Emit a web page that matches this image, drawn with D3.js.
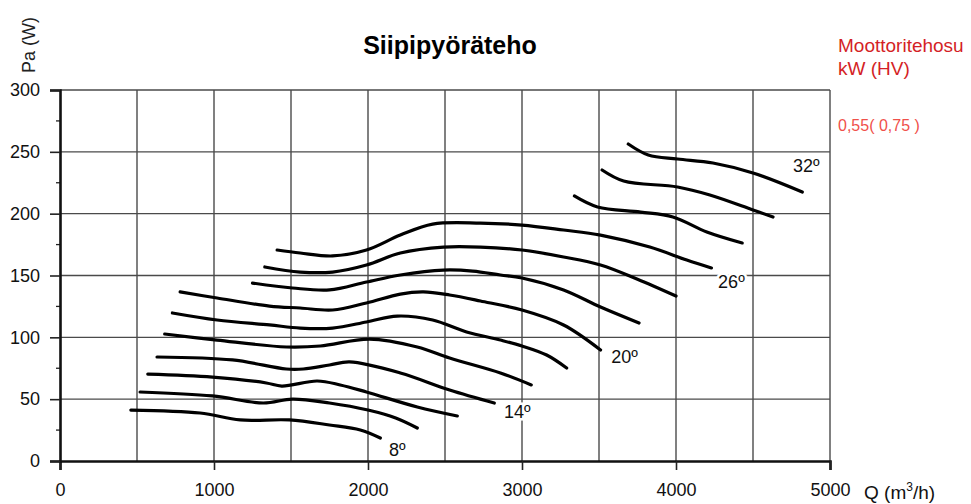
<!DOCTYPE html>
<html><head><meta charset="utf-8">
<script src="https://cdn.jsdelivr.net/npm/d3@7"></script>
<style>body{margin:0;background:#fff;} svg{display:block;font-family:"Liberation Sans",Arial,sans-serif;}</style>
</head><body>
<script>
// ---- data ----
const title = "Siipipyöräteho";
const yLabel = "Pa (W)";
const motorTitle = ["Moottoritehosu", "kW (HV)"];
const motorValue = "0,55( 0,75 )";
const xTicks = [0, 1000, 2000, 3000, 4000, 5000];
const yTicks = [0, 50, 100, 150, 200, 250, 300];
const angles = [8, 10, 12, 14, 16, 18, 20, 22, 24, 26, 28, 30, 32];
const labelledAngles = [8, 14, 20, 26, 32];
const curve8  = [[460,41.2],[910,38.8],[1170,33.2],[1490,33.2],[1750,29.1],[1950,25.1],[2080,18.6]];
const curve10 = [[520,55.8],[990,52.6],[1320,46.9],[1510,50.1],[1750,46.9],[2000,41.2],[2180,34.8],[2320,26.7]];
const curve12 = [[570,70.3],[990,67.9],[1340,63.1],[1440,60.6],[1670,64.7],[1820,61.5],[1990,55.8],[2320,43.7],[2580,36.4]];
const curve14 = [[630,84.1],[1120,81.7],[1470,74.4],[1580,74.4],[1750,77.6],[1880,80.1],[2210,71.2],[2530,57.4],[2820,46.9]];
const curve16 = [[680,102.7],[1020,97.8],[1470,92.2],[1690,93.0],[2010,98.6],[2320,92.2],[2530,83.3],[2860,71.2],[3060,61.5]];
const curve18 = [[730,119.7],[1020,114.0],[1360,110.0],[1560,107.5],[1770,107.5],[1990,112.4],[2190,117.2],[2420,114.0],[2640,104.3],[2860,97.8],[3000,93.0],[3160,85.7],[3290,75.2]];
const curve20 = [[780,136.7],[1020,131.8],[1360,125.3],[1560,123.7],[1770,122.1],[1990,127.8],[2210,135.0],[2360,136.7],[2530,134.2],[2730,129.4],[3000,122.1],[3270,110.0],[3510,89.8]];
const curve22 = [[1250,143.9],[1510,139.9],[1750,138.3],[1990,144.7],[2210,150.4],[2490,154.4],[2680,153.6],[2860,150.4],[3000,148.0],[3270,138.3],[3510,124.5],[3760,111.6]];
const curve24 = [[1330,156.9],[1560,152.8],[1770,152.8],[1990,158.5],[2210,168.2],[2490,173.0],[2730,173.0],[3000,170.6],[3270,165.0],[3510,158.5],[3750,147.0],[4000,133.4]];
const curve26 = [[1410,170.6],[1560,168.2],[1770,165.8],[1990,170.6],[2210,182.7],[2420,191.6],[2730,192.4],[3000,190.8],[3270,186.8],[3510,182.7],[3830,173.0],[4070,162.5],[4230,156.1]];
const curve28 = [[3340,214.3],[3490,205.4],[3770,201.3],[3980,197.3],[4200,185.2],[4430,176.3]];
const curve30 = [[3520,235.3],[3660,226.4],[4010,221.6],[4220,215.1],[4500,203.0],[4630,197.3]];
const curve32 = [[3690,256.3],[3820,247.4],[4010,244.2],[4240,241.0],[4500,232.9],[4820,217.5]];
const curves = [curve8, curve10, curve12, curve14, curve16, curve18, curve20, curve22, curve24, curve26, curve28, curve30, curve32];

// ---- drawing ----
const W = 971, H = 504;
const svg = d3.select("body").append("svg").attr("width", W).attr("height", H);
const x = d3.scaleLinear().domain([0, 5000]).range([60, 830]);
const y = d3.scaleLinear().domain([0, 300]).range([461, 90]);

const grid = svg.append("g").attr("stroke", "#4a4a4a").attr("stroke-width", 1.4);
grid.selectAll("line.v").data(d3.range(500, 5001, 500)).join("line")
  .attr("x1", d => x(d)).attr("x2", d => x(d)).attr("y1", y(300)).attr("y2", y(0));
grid.selectAll("line.h").data(d3.range(50, 301, 50)).join("line")
  .attr("x1", x(0)).attr("x2", x(5000)).attr("y1", d => y(d)).attr("y2", d => y(d));

// minor y ticks
svg.append("g").attr("stroke", "#222").attr("stroke-width", 1.3)
  .selectAll("line").data(d3.range(25, 300, 50)).join("line")
  .attr("x1", x(0) - 4).attr("x2", x(0)).attr("y1", d => y(d)).attr("y2", d => y(d));

const xAxis = svg.append("g").attr("transform", `translate(0,${y(0)})`)
  .call(d3.axisBottom(x).tickValues(xTicks).tickSize(9).tickPadding(13).tickFormat(d3.format("d")));
const yAxis = svg.append("g").attr("transform", `translate(${x(0)},0)`)
  .call(d3.axisLeft(y).tickValues(yTicks).tickSize(10).tickPadding(4).tickFormat(d3.format("d")));
[xAxis, yAxis].forEach(a => {
  a.select(".domain").attr("stroke", "#111").attr("stroke-width", 2.6);
  a.selectAll(".tick line").attr("stroke", "#222").attr("stroke-width", 1.6);
  a.selectAll("text").attr("fill", "#111").attr("font-size", 18).attr("font-family", "Liberation Sans, Arial, sans-serif");
});
yAxis.selectAll("text").attr("dx", -6);

// curves
const line = d3.line().x(d => x(d[0])).y(d => y(d[1])).curve(d3.curveCatmullRom.alpha(0.5));
svg.append("g").selectAll("path").data(curves).join("path")
  .attr("d", line).attr("fill", "none").attr("stroke", "#000").attr("stroke-width", 3.2).attr("stroke-linecap", "round");

// angle labels placed relative to curve end
const labelOffsets = {8: [17, 13], 14: [23, 10], 20: [24, 8], 26: [20, 15], 32: [4, -25]};
svg.append("g").selectAll("text").data(labelledAngles).join("text")
  .attr("x", a => { const c = curves[angles.indexOf(a)]; return x(c[c.length - 1][0]) + labelOffsets[a][0]; })
  .attr("y", a => { const c = curves[angles.indexOf(a)]; return y(c[c.length - 1][1]) + labelOffsets[a][1]; })
  .attr("text-anchor", "middle").attr("dominant-baseline", "middle")
  .attr("font-size", 18).attr("fill", "#111").attr("stroke", "#fff").attr("stroke-width", 5)
  .attr("paint-order", "stroke").text(a => a + "º");

// titles
svg.append("text").attr("x", 450).attr("y", 54).attr("text-anchor", "middle")
  .attr("font-size", 25).attr("font-weight", "bold").attr("fill", "#000").text(title);
svg.append("text").attr("transform", "translate(35,45) rotate(-90)").attr("text-anchor", "middle")
  .attr("font-size", 18).attr("fill", "#222").text(yLabel);
const xl = svg.append("text").attr("x", 864).attr("y", 499).attr("font-size", 19).attr("fill", "#111");
xl.append("tspan").text("Q (m");
xl.append("tspan").attr("font-size", 12).attr("dy", -8).text("3");
xl.append("tspan").attr("dy", 8).text("/h)");
svg.append("g").selectAll("text").data(motorTitle).join("text")
  .attr("x", 838).attr("y", (d, i) => 52 + i * 23).attr("font-size", 19)
  .attr("fill", "#d41f26").text(d => d);
svg.append("text").attr("x", 838).attr("y", 131).attr("font-size", 16)
  .attr("fill", "#f0504a").text(motorValue);
</script>
</body></html>
